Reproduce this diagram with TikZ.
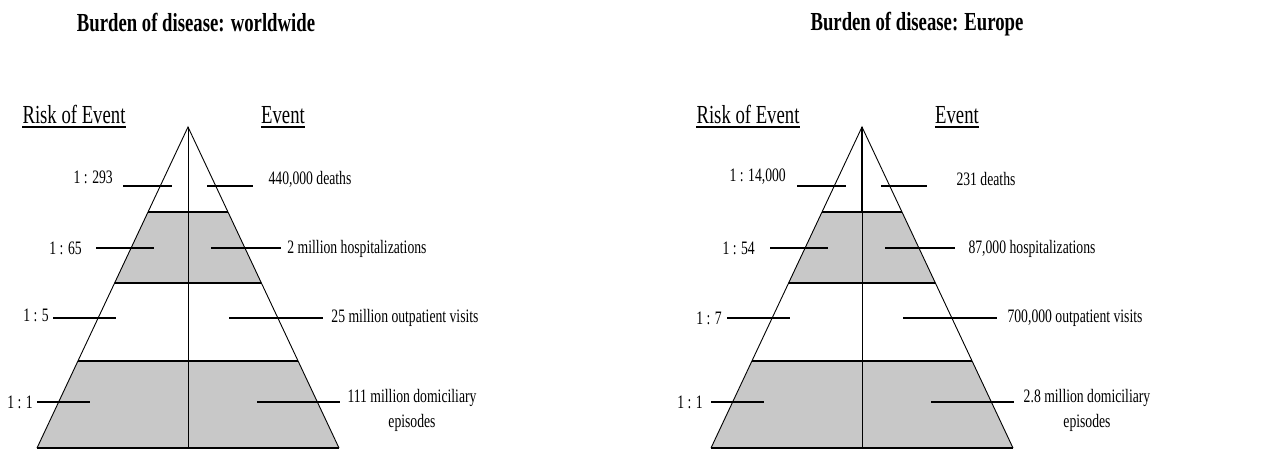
\documentclass[tikz,border=0pt]{standalone}
\usepackage{fontspec}
\setmainfont{Liberation Serif}[FakeStretch=0.72]
\definecolor{bandgray}{RGB}{200,200,200}
\tikzset{
  eventtext/.style={font=\fontsize{19}{25}\selectfont, align=center},
  headtext/.style={font=\fontsize{26}{30}\selectfont, anchor=base},
  titletext/.style={font=\bfseries\fontsize{26}{30}\selectfont, anchor=base},
  leader/.style={line width=1.6pt},
  bandline/.style={line width=1.8pt},
}
\begin{document}
\begin{tikzpicture}[x=1pt, y=-1pt, every node/.style={inner sep=0pt}]
  \useasboundingbox (0,0) rectangle (1272,450);
  \foreach \side/\cx in {world/188,europe/862} {
    \coordinate (\side-apex) at (\cx,127);
    \foreach \index/\y in {1/212,2/283,3/361,4/448} {
      \coordinate (\side-l\index) at ({\cx-0.4704*(\y-127)},\y);
      \coordinate (\side-r\index) at ({\cx+0.4704*(\y-127)},\y);
      \coordinate (\side-m\index) at (\cx,\y);
    }
    \fill[bandgray] (\side-l1) -- (\side-r1) -- (\side-r2) -- (\side-l2) -- cycle;
    \fill[bandgray] (\side-l3) -- (\side-r3) -- (\side-r4) -- (\side-l4) -- cycle;
    \draw[line width=0.9pt] (\side-l4) -- (\side-apex) -- (\side-r4);
    \draw[line width=1pt] (\side-apex) -- (\side-m4);
    \foreach \index in {1,2,3,4}
      \draw[bandline] (\side-l\index) -- (\side-r\index);
    \foreach \y/\la/\lb/\ra/\rb in {186/65/16/19/65,248/92/34/23/93,318/135/72/41/135,402/151/98/69/152} {
      \draw[leader] (\cx-\la,\y) -- (\cx-\lb,\y);
      \draw[leader] (\cx+\ra,\y) -- (\cx+\rb,\y);
    }
    \node[headtext] (\side-risk) at (\cx-114,123) {Risk of Event};
    \node[headtext] (\side-event) at (\cx+95,123) {Event};
    \foreach \head in {risk,event}
      \draw[line width=1.8pt] ([yshift=-4pt]\side-\head.base west) -- ([yshift=-4pt]\side-\head.base east);
  }
  % the top of the europe axis is drawn heavier
  \draw[line width=2.4pt] (europe-apex) -- (europe-m1);

  \node[titletext] (world-title) at (196,31) {Burden of disease: worldwide};
  \node[titletext] (europe-title) at (917,30) {Burden of disease: Europe};

  \foreach \index/\x/\y/\risk in {1/113/177/{1 : 293},2/82/248/{1 : 65},3/49/315/{1 : 5},4/33/402/{1 : 1}}
    \node[eventtext, anchor=east] (world-risk-\index) at (\x,\y) {\risk};
  \foreach \index/\x/\y/\risk in {1/786/177/{1 : 14,000},2/755/248/{1 : 54},3/722/318/{1 : 7},4/703/402/{1 : 1}}
    \node[eventtext, anchor=east] (europe-risk-\index) at (\x,\y) {\risk};

  \foreach \index/\x/\y/\event in {1/310/179/{440,000 deaths},2/357/249/{2 million hospitalizations},3/405/318/{25 million outpatient visits},4/412/410/{111 million domiciliary\\episodes}}
    \node[eventtext] (world-event-\index) at (\x,\y) {\event};
  \foreach \index/\x/\y/\event in {1/986/179/{231 deaths},2/1032/249/{87,000 hospitalizations},3/1075/318/{700,000 outpatient visits},4/1087/410/{2.8 million domiciliary\\episodes}}
    \node[eventtext] (europe-event-\index) at (\x,\y) {\event};
\end{tikzpicture}
\end{document}
